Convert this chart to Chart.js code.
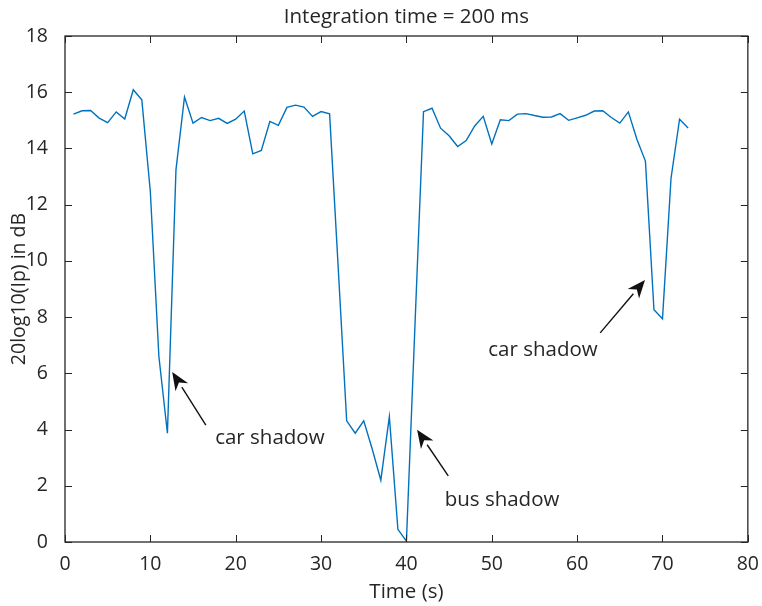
<!DOCTYPE html>
<html>
<head>
<meta charset="utf-8">
<script src="https://cdn.jsdelivr.net/npm/chart.js@4"></script>
<style>
html,body{margin:0;padding:0;background:#fff}
#wrap{width:762px;height:606px;position:relative}
</style>
</head>
<body>
<div id="wrap"><canvas id="c" width="762" height="606"></canvas></div>
<script>
const times=[1,2,3,4,5,6,7,8,9,10,11,12,13,14,15,16,17,18,19,20,21,22,23,24,25,26,27,28,29,30,31,32,33,34,35,36,37,38,39,40,41,42,43,44,45,46,47,48,49,50,51,52,53,54,55,56,57,58,59,60,61,62,63,64,65,66,67,68,69,70,71,72,73];
const level=[15.22,15.34,15.35,15.08,14.92,15.30,15.05,16.09,15.73,12.45,6.6,3.87,13.24,15.83,14.9,15.1,14.99,15.07,14.89,15.04,
15.33,13.81,13.93,14.96,14.82,15.46,15.54,15.47,15.14,15.31,15.23,9.8,4.31,3.87,4.31,3.3,2.2,4.46,0.45,0.03,
7.7,15.31,15.43,14.72,14.45,14.07,14.28,14.8,15.14,14.16,15.02,14.99,15.22,15.24,15.17,15.11,15.12,15.24,15.0,15.09,
15.18,15.33,15.34,15.1,14.9,15.3,14.33,13.55,8.26,7.94,12.94,15.04,14.73];
const xTicks=[0,10,20,30,40,50,60,70,80];
const yTicks=[0,2,4,6,8,10,12,14,16,18];
const noteText=["car shadow","bus shadow","car shadow"];
const noteX=[24.0,51.2,56.0];
const noteY=[3.7,1.5,6.83];
const headX=[12.56,41.25,67.95];
const headY=[6.05,3.99,9.32];
const tailX=[16.5,44.9,62.7];
const tailY=[4.16,2.35,7.44];
const title="Integration time = 200 ms";
const xTitle="Time (s)";
const yTitle="20log10(Ip) in dB";

const ink="#262626";
const font="'Open Sans', sans-serif";

const frame={id:"frame",afterDraw(chart){
  const {ctx,chartArea:a,scales:{x,y}}=chart;
  ctx.save();
  ctx.strokeStyle=ink;ctx.lineWidth=1.3;
  ctx.strokeRect(a.left,a.top,a.right-a.left,a.bottom-a.top);
  ctx.lineWidth=1;
  xTicks.forEach(v=>{const px=Math.round(x.getPixelForValue(v))+0.5;
    ctx.beginPath();ctx.moveTo(px,a.bottom);ctx.lineTo(px,a.bottom-7);
    ctx.moveTo(px,a.top);ctx.lineTo(px,a.top+7);ctx.stroke();});
  yTicks.forEach(v=>{const py=Math.round(y.getPixelForValue(v))+0.5;
    ctx.beginPath();ctx.moveTo(a.left,py);ctx.lineTo(a.left+7,py);
    ctx.moveTo(a.right,py);ctx.lineTo(a.right-7,py);ctx.stroke();});
  ctx.fillStyle=ink;ctx.textAlign="center";ctx.textBaseline="middle";
  ctx.font="20.5px "+font;
  ctx.fillText(title,(a.left+a.right)/2,17);
  ctx.fillText(xTitle,(a.left+a.right)/2,592);
  ctx.save();ctx.translate(19,(a.top+a.bottom)/2);ctx.rotate(-Math.PI/2);
  ctx.font="19.5px "+font;
  ctx.fillText(yTitle,0,0);ctx.restore();
  noteText.forEach((t,i)=>{
    ctx.fillText(t,x.getPixelForValue(noteX[i]),y.getPixelForValue(noteY[i]));
    const hx=x.getPixelForValue(headX[i]),hy=y.getPixelForValue(headY[i]);
    const tx=x.getPixelForValue(tailX[i]),ty=y.getPixelForValue(tailY[i]);
    const ang=Math.atan2(hy-ty,hx-tx),L=18,W=7.5;
    const bx=hx-L*Math.cos(ang),by=hy-L*Math.sin(ang);
    ctx.strokeStyle="#111";ctx.lineWidth=1.4;
    ctx.beginPath();ctx.moveTo(tx,ty);ctx.lineTo(bx,by);ctx.stroke();
    const nx=-Math.sin(ang),ny=Math.cos(ang);
    const mx=hx-L*0.7*Math.cos(ang),my=hy-L*0.7*Math.sin(ang);
    ctx.fillStyle="#111";ctx.beginPath();ctx.moveTo(hx,hy);
    ctx.lineTo(bx+nx*W,by+ny*W);ctx.lineTo(mx,my);ctx.lineTo(bx-nx*W,by-ny*W);ctx.closePath();ctx.fill();
    ctx.fillStyle=ink;
  });
  ctx.restore();
}};

new Chart("c",{type:"line",
  data:{datasets:[{data:times.map((t,i)=>({x:t,y:level[i]})),borderColor:"#0072BD",borderWidth:1.4,pointRadius:0,tension:0,fill:false}]},
  options:{responsive:false,animation:false,
    layout:{padding:{left:0,right:13,top:36,bottom:0}},
    plugins:{legend:{display:false},tooltip:{enabled:false}},
    scales:{
      x:{type:"linear",min:0,max:80,afterFit:s=>{s.height=64},
        afterBuildTicks:s=>{s.ticks=xTicks.map(v=>({value:v}))},
        grid:{display:false},border:{display:false},
        ticks:{color:ink,font:{family:font,size:19.5},padding:3,maxRotation:0}},
      y:{min:0,max:18,afterFit:s=>{s.width=65},
        afterBuildTicks:s=>{s.ticks=yTicks.map(v=>({value:v}))},
        grid:{display:false},border:{display:false},
        ticks:{color:ink,font:{family:font,size:19.5},padding:9}}
    }},
  plugins:[frame]});
</script>
</body>
</html>
